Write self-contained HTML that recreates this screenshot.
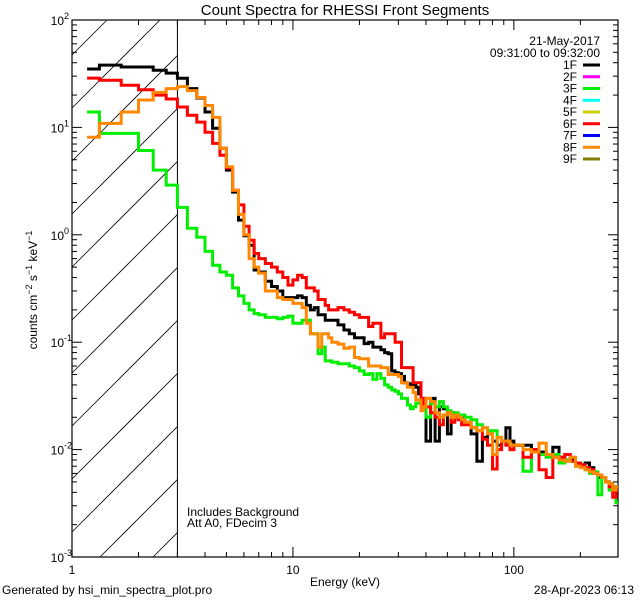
<!DOCTYPE html>
<html><head><meta charset="utf-8"><style>
html,body{margin:0;padding:0;background:#fff;width:640px;height:600px;overflow:hidden}
svg{display:block;font-family:"Liberation Sans",sans-serif}
</style></head><body>
<svg id="chart" width="640" height="600" viewBox="0 0 640 600" xmlns="http://www.w3.org/2000/svg">
<rect width="640" height="600" fill="#fff"/>
<text x="345" y="15" font-size="15" text-anchor="middle">Count Spectra for RHESSI Front Segments</text>
<g id="axes"></g>
<g id="series"></g>
<text x="600" y="45" font-size="12" text-anchor="end">21-May-2017</text>
<text x="600" y="57" font-size="12" text-anchor="end">09:31:00 to 09:32:00</text>
<g id="legend"></g>
<text x="187" y="516" font-size="12">Includes Background</text>
<text x="187" y="527" font-size="12">Att A0, FDecim 3</text>
<text x="345" y="586" font-size="12" text-anchor="middle">Energy (keV)</text>
<text x="2" y="594" font-size="12">Generated by hsi_min_spectra_plot.pro</text>
<text x="634" y="594" font-size="12" text-anchor="end">28-Apr-2023 06:13</text>
<text transform="translate(37,290) rotate(-90)" font-size="12" text-anchor="middle">counts cm<tspan font-size="9" dy="-5">−2</tspan><tspan dy="5"> s</tspan><tspan font-size="9" dy="-5">−1</tspan><tspan dy="5"> keV</tspan><tspan font-size="9" dy="-5">−1</tspan></text>
</svg>
<script>
const edges=[1.17,1.33,1.67,2.0,2.33,2.67,3.0,3.33,3.67,4.0,4.33,4.67,5.0,5.33,5.67,6.0,6.33,6.67,7.0,
7.5,8,8.5,9,9.5,10,10.5,11,11.5,12,12.5,13,13.5,14,14.5,15,
16,17,18,19,20,21,22,23,24,25,26,27,28,29,30,31,32,33,34,35,36,37,38,39,40,
42,44,46,48,50,52,54,56,58,60,64,68,72,76,80,84,88,92,96,100,
110,120,130,140,150,160,170,180,190,200,210,220,230,240,250,260,270,280,290,300];
const seg1F=[35,38,36.5,36.5,34,32,28.7,23,18.8,13.9,9.8,6.4,4.0,2.5,1.37,0.98,0.8,0.47,
0.45,0.37,0.33,0.3,0.26,0.26,0.26,0.27,0.26,0.22,0.2,0.21,0.18,0.18,0.16,0.16,
0.16,0.145,0.13,0.12,0.11,0.11,0.097,0.1,0.09,0.09,0.085,0.08,0.078,0.054,0.052,0.051,0.048,0.042,0.041,0.04,0.04,0.038,0.033,0.03,0.03,
0.012,0.03,0.012,0.025,0.024,0.014,0.022,0.021,0.02,0.02,
0.018,0.014,0.0078,0.013,0.014,0.012,0.011,0.012,0.016,0.012,
0.011,0.011,0.01,0.0095,0.009,0.0105,0.0085,0.008,0.0082,0.0075,0.0072,0.0075,0.0068,0.006,0.0055,0.0055,0.005,0.0048,0.0045,0.0042];
const seg3F=[13.9,8.8,8.8,6.1,4.0,2.9,1.8,1.15,0.95,0.7,0.52,0.45,0.42,0.32,0.27,0.23,0.2,0.185,
0.18,0.17,0.17,0.165,0.17,0.175,0.15,0.15,0.16,0.16,0.12,0.12,0.078,0.09,0.067,0.067,
0.065,0.063,0.063,0.06,0.058,0.054,0.05,0.051,0.045,0.051,0.046,0.04,0.038,0.036,0.035,0.033,0.03,0.03,0.026,0.024,0.025,0.027,0.027,0.025,0.024,
0.02,0.027,0.025,0.028,0.025,0.023,0.022,0.022,0.02,0.021,
0.02,0.019,0.017,0.016,0.015,0.015,0.013,0.012,0.0115,0.01,
0.011,0.0063,0.0095,0.009,0.0085,0.009,0.0075,0.008,0.0078,0.007,0.0072,0.0065,0.006,0.0062,0.0038,0.0055,0.005,0.0042,0.0045,0.0032];
const seg6F=[28.8,27.5,24.7,22.4,20,18.4,15.5,13,11.2,9,7.1,5.5,4.2,2.6,1.9,1.2,0.89,0.67,
0.6,0.54,0.5,0.45,0.4,0.34,0.38,0.42,0.4,0.32,0.32,0.3,0.25,0.25,0.22,0.2,
0.2,0.21,0.2,0.19,0.18,0.17,0.17,0.14,0.15,0.15,0.11,0.12,0.12,0.12,0.1,0.1,0.058,0.058,0.058,0.058,0.042,0.042,0.042,0.03,0.025,
0.025,0.022,0.02,0.017,0.021,0.022,0.018,0.02,0.019,0.017,
0.017,0.016,0.015,0.0125,0.011,0.0066,0.01,0.012,0.011,0.01,
0.011,0.0085,0.01,0.0065,0.0055,0.0085,0.0085,0.009,0.0078,0.0075,0.0072,0.0068,0.0065,0.006,0.0058,0.0055,0.005,0.0045,0.0036,0.0042];
const seg8F=[8.1,10.9,13.9,18,21.2,23,24,22,19,16,12.4,6.4,4.3,2.6,1.55,1.0,0.6,0.5,
0.44,0.3,0.3,0.26,0.25,0.25,0.23,0.23,0.21,0.15,0.12,0.12,0.09,0.12,0.12,0.11,
0.1,0.096,0.088,0.09,0.072,0.07,0.07,0.06,0.06,0.06,0.058,0.058,0.05,0.05,0.05,0.048,0.042,0.042,0.038,0.038,0.034,0.029,0.029,0.023,0.025,
0.03,0.028,0.022,0.02,0.021,0.022,0.02,0.021,0.02,0.019,
0.018,0.016,0.015,0.016,0.014,0.009,0.013,0.012,0.012,0.011,
0.011,0.01,0.0095,0.0115,0.009,0.0085,0.008,0.0078,0.0085,0.007,0.0068,0.0065,0.0062,0.006,0.0058,0.0055,0.005,0.0048,0.0042,0.0045];
const legendLabels=["1F","2F","3F","4F","5F","6F","7F","8F","9F"];
const legendColors=["#000","#ff00ff","#00ee00","#00ffff","#d0d000","#ff0000","#0000ff","#ff8800","#808000"];
const yTickLabels=["10","10","10","10","10","10"];
const yTickExps=["-3","-2","-1","0","1","2"];
const xTickLabels=["1","10","100"];

const NS="http://www.w3.org/2000/svg";
const L=72,R=618,T=20,B=557,XMIN=1,XMAX=296,YMIN=-3,YMAX=2;
const xs=e=>L+(Math.log10(e)-Math.log10(XMIN))/(Math.log10(XMAX)-Math.log10(XMIN))*(R-L);
const ys=v=>B-(Math.log10(v)-YMIN)/(YMAX-YMIN)*(B-T);
function mk(tag,attrs,parent){const el=document.createElementNS(NS,tag);for(const k in attrs)el.setAttribute(k,attrs[k]);parent.appendChild(el);return el;}
const axes=document.getElementById('axes');
const defs=mk('defs',{},axes);
const cp=mk('clipPath',{id:'plotclip'},defs);
mk('rect',{x:L,y:T,width:R-L,height:B-T},cp);
const X3=xs(3);
const hatch=mk('g',{},axes);


for(let c=710;c>-200;c-=53){
  const xa=Math.max(L,c-B),xb=Math.min(X3,c-T);
  if(xa<xb)mk('line',{x1:xa,y1:c-xa,x2:xb,y2:c-xb,stroke:'#000','stroke-width':0.8},hatch);
}
const vline=mk('line',{x1:X3,y1:T,x2:X3,y2:B,stroke:'#000','stroke-width':1},axes);


const frame=mk('rect',{x:L,y:T,width:R-L,height:B-T,fill:'none',stroke:'#000','stroke-width':1.2},axes);


for(let d=YMIN;d<=YMAX;d++){
  for(let m=1;m<10;m++){
    const v=m*Math.pow(10,d); if(Math.log10(v)>YMAX+1e-9)break;
    const y=ys(v),len=m===1?10:5;
    mk('line',{x1:L,y1:y,x2:L+len,y2:y,stroke:'#000'},axes);
    mk('line',{x1:R,y1:y,x2:R-len,y2:y,stroke:'#000'},axes);
  }
}
yTickLabels.forEach((lab,i)=>{
  const y=ys(Math.pow(10,YMIN+i));
  const t=mk('text',{x:64,y:y+5,'font-size':12,'text-anchor':'end'},axes);
  
  
  t.textContent=lab;
  const s=mk('text',{x:64,y:y-1,'font-size':9},axes);
  
  
  s.textContent=yTickExps[i];
});
for(let d=0;d<3;d++){
  for(let m=1;m<10;m++){
    const e=m*Math.pow(10,d); if(e>XMAX)break;
    const x=xs(e),len=m===1?10:5;
    mk('line',{x1:x,y1:B,x2:x,y2:B-len,stroke:'#000'},axes);
    mk('line',{x1:x,y1:T,x2:x,y2:T+len,stroke:'#000'},axes);
  }
}
xTickLabels.forEach((lab,i)=>{
  const t=mk('text',{x:xs(Math.pow(10,i)),y:574,'font-size':12,'text-anchor':'middle'},axes);
  
  
  t.textContent=lab;
});
const sg=document.getElementById('series');
sg.setAttribute('clip-path','url(#plotclip)');
function step(vals){
  let d='M'+xs(edges[0]).toFixed(1)+','+ys(vals[0]).toFixed(1);
  for(let i=0;i<vals.length;i++){
    if(i>0)d+='V'+ys(vals[i]).toFixed(1);
    d+='H'+Math.min(R,xs(edges[i+1])).toFixed(1);
  }
  return d;
}
[[seg1F,'#000','series-1f'],[seg3F,'#00ee00','series-3f'],[seg6F,'#ff0000','series-6f'],[seg8F,'#ff8800','series-8f']].forEach(s=>{
  const p=mk('path',{d:step(s[0]),fill:'none',stroke:s[1],'stroke-width':3,'stroke-linejoin':'miter'},sg);
  
  
});
const lg=document.getElementById('legend');
legendLabels.forEach((lab,i)=>{
  const y=65+i*11.75;
  const g=mk('g',{},lg);
  
  
  const t=mk('text',{x:577,y:y+4,'font-size':12,'text-anchor':'end'},g);
  t.textContent=lab;
  mk('line',{x1:583,y1:y,x2:600,y2:y,stroke:legendColors[i],'stroke-width':3},g);
});
</script>
</body></html>
